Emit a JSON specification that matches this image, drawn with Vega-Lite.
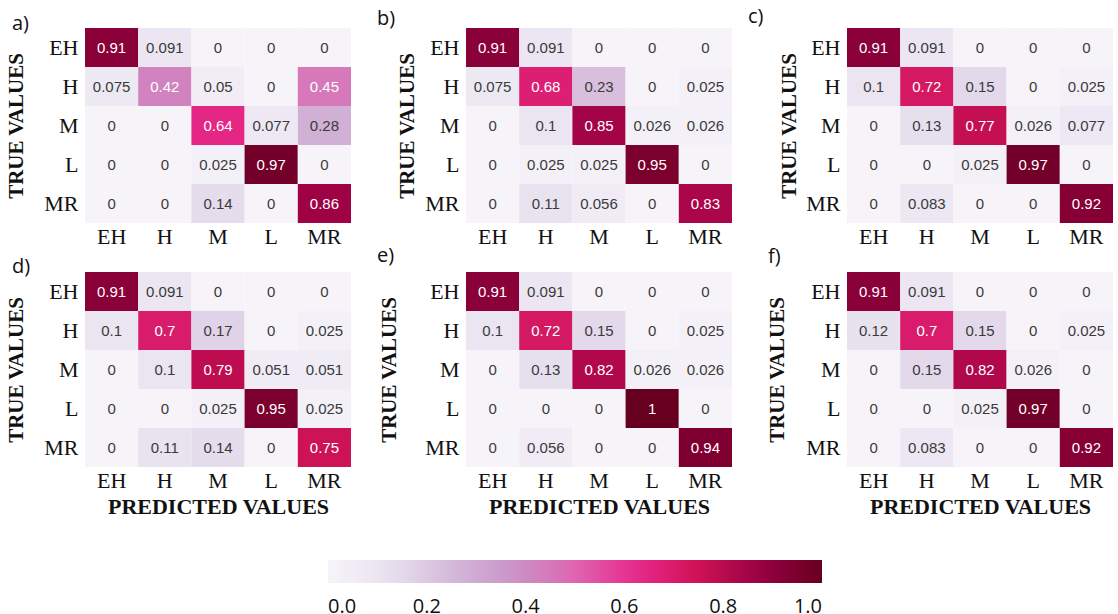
{
  "$schema": "https://vega.github.io/schema/vega-lite/v6.json",
  "background": "white",
  "padding": {"left": 5, "top": 7, "right": 0, "bottom": 0},
  "datasets": {
    "cm": [
      {"panel": "a", "actual": "EH", "predicted": "EH", "value": 0.91},
      {"panel": "a", "actual": "EH", "predicted": "H", "value": 0.091},
      {"panel": "a", "actual": "EH", "predicted": "M", "value": 0},
      {"panel": "a", "actual": "EH", "predicted": "L", "value": 0},
      {"panel": "a", "actual": "EH", "predicted": "MR", "value": 0},
      {"panel": "a", "actual": "H", "predicted": "EH", "value": 0.075},
      {"panel": "a", "actual": "H", "predicted": "H", "value": 0.42},
      {"panel": "a", "actual": "H", "predicted": "M", "value": 0.05},
      {"panel": "a", "actual": "H", "predicted": "L", "value": 0},
      {"panel": "a", "actual": "H", "predicted": "MR", "value": 0.45},
      {"panel": "a", "actual": "M", "predicted": "EH", "value": 0},
      {"panel": "a", "actual": "M", "predicted": "H", "value": 0},
      {"panel": "a", "actual": "M", "predicted": "M", "value": 0.64},
      {"panel": "a", "actual": "M", "predicted": "L", "value": 0.077},
      {"panel": "a", "actual": "M", "predicted": "MR", "value": 0.28},
      {"panel": "a", "actual": "L", "predicted": "EH", "value": 0},
      {"panel": "a", "actual": "L", "predicted": "H", "value": 0},
      {"panel": "a", "actual": "L", "predicted": "M", "value": 0.025},
      {"panel": "a", "actual": "L", "predicted": "L", "value": 0.97},
      {"panel": "a", "actual": "L", "predicted": "MR", "value": 0},
      {"panel": "a", "actual": "MR", "predicted": "EH", "value": 0},
      {"panel": "a", "actual": "MR", "predicted": "H", "value": 0},
      {"panel": "a", "actual": "MR", "predicted": "M", "value": 0.14},
      {"panel": "a", "actual": "MR", "predicted": "L", "value": 0},
      {"panel": "a", "actual": "MR", "predicted": "MR", "value": 0.86},

      {"panel": "b", "actual": "EH", "predicted": "EH", "value": 0.91},
      {"panel": "b", "actual": "EH", "predicted": "H", "value": 0.091},
      {"panel": "b", "actual": "EH", "predicted": "M", "value": 0},
      {"panel": "b", "actual": "EH", "predicted": "L", "value": 0},
      {"panel": "b", "actual": "EH", "predicted": "MR", "value": 0},
      {"panel": "b", "actual": "H", "predicted": "EH", "value": 0.075},
      {"panel": "b", "actual": "H", "predicted": "H", "value": 0.68},
      {"panel": "b", "actual": "H", "predicted": "M", "value": 0.23},
      {"panel": "b", "actual": "H", "predicted": "L", "value": 0},
      {"panel": "b", "actual": "H", "predicted": "MR", "value": 0.025},
      {"panel": "b", "actual": "M", "predicted": "EH", "value": 0},
      {"panel": "b", "actual": "M", "predicted": "H", "value": 0.1},
      {"panel": "b", "actual": "M", "predicted": "M", "value": 0.85},
      {"panel": "b", "actual": "M", "predicted": "L", "value": 0.026},
      {"panel": "b", "actual": "M", "predicted": "MR", "value": 0.026},
      {"panel": "b", "actual": "L", "predicted": "EH", "value": 0},
      {"panel": "b", "actual": "L", "predicted": "H", "value": 0.025},
      {"panel": "b", "actual": "L", "predicted": "M", "value": 0.025},
      {"panel": "b", "actual": "L", "predicted": "L", "value": 0.95},
      {"panel": "b", "actual": "L", "predicted": "MR", "value": 0},
      {"panel": "b", "actual": "MR", "predicted": "EH", "value": 0},
      {"panel": "b", "actual": "MR", "predicted": "H", "value": 0.11},
      {"panel": "b", "actual": "MR", "predicted": "M", "value": 0.056},
      {"panel": "b", "actual": "MR", "predicted": "L", "value": 0},
      {"panel": "b", "actual": "MR", "predicted": "MR", "value": 0.83},

      {"panel": "c", "actual": "EH", "predicted": "EH", "value": 0.91},
      {"panel": "c", "actual": "EH", "predicted": "H", "value": 0.091},
      {"panel": "c", "actual": "EH", "predicted": "M", "value": 0},
      {"panel": "c", "actual": "EH", "predicted": "L", "value": 0},
      {"panel": "c", "actual": "EH", "predicted": "MR", "value": 0},
      {"panel": "c", "actual": "H", "predicted": "EH", "value": 0.1},
      {"panel": "c", "actual": "H", "predicted": "H", "value": 0.72},
      {"panel": "c", "actual": "H", "predicted": "M", "value": 0.15},
      {"panel": "c", "actual": "H", "predicted": "L", "value": 0},
      {"panel": "c", "actual": "H", "predicted": "MR", "value": 0.025},
      {"panel": "c", "actual": "M", "predicted": "EH", "value": 0},
      {"panel": "c", "actual": "M", "predicted": "H", "value": 0.13},
      {"panel": "c", "actual": "M", "predicted": "M", "value": 0.77},
      {"panel": "c", "actual": "M", "predicted": "L", "value": 0.026},
      {"panel": "c", "actual": "M", "predicted": "MR", "value": 0.077},
      {"panel": "c", "actual": "L", "predicted": "EH", "value": 0},
      {"panel": "c", "actual": "L", "predicted": "H", "value": 0},
      {"panel": "c", "actual": "L", "predicted": "M", "value": 0.025},
      {"panel": "c", "actual": "L", "predicted": "L", "value": 0.97},
      {"panel": "c", "actual": "L", "predicted": "MR", "value": 0},
      {"panel": "c", "actual": "MR", "predicted": "EH", "value": 0},
      {"panel": "c", "actual": "MR", "predicted": "H", "value": 0.083},
      {"panel": "c", "actual": "MR", "predicted": "M", "value": 0},
      {"panel": "c", "actual": "MR", "predicted": "L", "value": 0},
      {"panel": "c", "actual": "MR", "predicted": "MR", "value": 0.92},

      {"panel": "d", "actual": "EH", "predicted": "EH", "value": 0.91},
      {"panel": "d", "actual": "EH", "predicted": "H", "value": 0.091},
      {"panel": "d", "actual": "EH", "predicted": "M", "value": 0},
      {"panel": "d", "actual": "EH", "predicted": "L", "value": 0},
      {"panel": "d", "actual": "EH", "predicted": "MR", "value": 0},
      {"panel": "d", "actual": "H", "predicted": "EH", "value": 0.1},
      {"panel": "d", "actual": "H", "predicted": "H", "value": 0.7},
      {"panel": "d", "actual": "H", "predicted": "M", "value": 0.17},
      {"panel": "d", "actual": "H", "predicted": "L", "value": 0},
      {"panel": "d", "actual": "H", "predicted": "MR", "value": 0.025},
      {"panel": "d", "actual": "M", "predicted": "EH", "value": 0},
      {"panel": "d", "actual": "M", "predicted": "H", "value": 0.1},
      {"panel": "d", "actual": "M", "predicted": "M", "value": 0.79},
      {"panel": "d", "actual": "M", "predicted": "L", "value": 0.051},
      {"panel": "d", "actual": "M", "predicted": "MR", "value": 0.051},
      {"panel": "d", "actual": "L", "predicted": "EH", "value": 0},
      {"panel": "d", "actual": "L", "predicted": "H", "value": 0},
      {"panel": "d", "actual": "L", "predicted": "M", "value": 0.025},
      {"panel": "d", "actual": "L", "predicted": "L", "value": 0.95},
      {"panel": "d", "actual": "L", "predicted": "MR", "value": 0.025},
      {"panel": "d", "actual": "MR", "predicted": "EH", "value": 0},
      {"panel": "d", "actual": "MR", "predicted": "H", "value": 0.11},
      {"panel": "d", "actual": "MR", "predicted": "M", "value": 0.14},
      {"panel": "d", "actual": "MR", "predicted": "L", "value": 0},
      {"panel": "d", "actual": "MR", "predicted": "MR", "value": 0.75},

      {"panel": "e", "actual": "EH", "predicted": "EH", "value": 0.91},
      {"panel": "e", "actual": "EH", "predicted": "H", "value": 0.091},
      {"panel": "e", "actual": "EH", "predicted": "M", "value": 0},
      {"panel": "e", "actual": "EH", "predicted": "L", "value": 0},
      {"panel": "e", "actual": "EH", "predicted": "MR", "value": 0},
      {"panel": "e", "actual": "H", "predicted": "EH", "value": 0.1},
      {"panel": "e", "actual": "H", "predicted": "H", "value": 0.72},
      {"panel": "e", "actual": "H", "predicted": "M", "value": 0.15},
      {"panel": "e", "actual": "H", "predicted": "L", "value": 0},
      {"panel": "e", "actual": "H", "predicted": "MR", "value": 0.025},
      {"panel": "e", "actual": "M", "predicted": "EH", "value": 0},
      {"panel": "e", "actual": "M", "predicted": "H", "value": 0.13},
      {"panel": "e", "actual": "M", "predicted": "M", "value": 0.82},
      {"panel": "e", "actual": "M", "predicted": "L", "value": 0.026},
      {"panel": "e", "actual": "M", "predicted": "MR", "value": 0.026},
      {"panel": "e", "actual": "L", "predicted": "EH", "value": 0},
      {"panel": "e", "actual": "L", "predicted": "H", "value": 0},
      {"panel": "e", "actual": "L", "predicted": "M", "value": 0},
      {"panel": "e", "actual": "L", "predicted": "L", "value": 1},
      {"panel": "e", "actual": "L", "predicted": "MR", "value": 0},
      {"panel": "e", "actual": "MR", "predicted": "EH", "value": 0},
      {"panel": "e", "actual": "MR", "predicted": "H", "value": 0.056},
      {"panel": "e", "actual": "MR", "predicted": "M", "value": 0},
      {"panel": "e", "actual": "MR", "predicted": "L", "value": 0},
      {"panel": "e", "actual": "MR", "predicted": "MR", "value": 0.94},

      {"panel": "f", "actual": "EH", "predicted": "EH", "value": 0.91},
      {"panel": "f", "actual": "EH", "predicted": "H", "value": 0.091},
      {"panel": "f", "actual": "EH", "predicted": "M", "value": 0},
      {"panel": "f", "actual": "EH", "predicted": "L", "value": 0},
      {"panel": "f", "actual": "EH", "predicted": "MR", "value": 0},
      {"panel": "f", "actual": "H", "predicted": "EH", "value": 0.12},
      {"panel": "f", "actual": "H", "predicted": "H", "value": 0.7},
      {"panel": "f", "actual": "H", "predicted": "M", "value": 0.15},
      {"panel": "f", "actual": "H", "predicted": "L", "value": 0},
      {"panel": "f", "actual": "H", "predicted": "MR", "value": 0.025},
      {"panel": "f", "actual": "M", "predicted": "EH", "value": 0},
      {"panel": "f", "actual": "M", "predicted": "H", "value": 0.15},
      {"panel": "f", "actual": "M", "predicted": "M", "value": 0.82},
      {"panel": "f", "actual": "M", "predicted": "L", "value": 0.026},
      {"panel": "f", "actual": "M", "predicted": "MR", "value": 0},
      {"panel": "f", "actual": "L", "predicted": "EH", "value": 0},
      {"panel": "f", "actual": "L", "predicted": "H", "value": 0},
      {"panel": "f", "actual": "L", "predicted": "M", "value": 0.025},
      {"panel": "f", "actual": "L", "predicted": "L", "value": 0.97},
      {"panel": "f", "actual": "L", "predicted": "MR", "value": 0},
      {"panel": "f", "actual": "MR", "predicted": "EH", "value": 0},
      {"panel": "f", "actual": "MR", "predicted": "H", "value": 0.083},
      {"panel": "f", "actual": "MR", "predicted": "M", "value": 0},
      {"panel": "f", "actual": "MR", "predicted": "L", "value": 0},
      {"panel": "f", "actual": "MR", "predicted": "MR", "value": 0.92}
    ]
  },
  "columns": 3,
  "spacing": {"column": 115, "row": 49},
  "bounds": "flush",
  "resolve": {"scale": {"x": "independent", "y": "independent", "color": "shared"}},
  "concat": [
    {
      "width": 266, "height": 195,
      "title": {"text": "a)", "dx": -73, "dy": 10},
      "data": {"name": "cm"},
      "transform": [{"filter": "datum.panel == 'a'"}],
      "encoding": {
        "x": {"field": "predicted", "type": "nominal", "sort": ["EH", "H", "M", "L", "MR"], "axis": {"title": null}},
        "y": {"field": "actual", "type": "nominal", "sort": ["EH", "H", "M", "L", "MR"], "axis": {"title": "TRUE VALUES", "titlePadding": 17}}
      },
      "layer": [
        {"mark": {"type": "rect"}, "encoding": {"color": {"field": "value", "type": "quantitative", "scale": {"domain": [0, 0.125, 0.25, 0.375, 0.5, 0.625, 0.75, 0.875, 1], "range": ["#f7f4f9", "#e7e1ef", "#d4b9da", "#c994c7", "#df65b0", "#e7298a", "#ce1256", "#980043", "#67001f"], "interpolate": "rgb"}, "legend": {"orient": "none", "legendX": 243, "legendY": 532, "direction": "horizontal", "title": null, "gradientLength": 494, "gradientThickness": 23, "gradientStrokeWidth": 0, "values": [0, 0.2, 0.4, 0.6, 0.8, 1], "format": ".1f", "labelFont": "Open Sans", "labelFontSize": 20, "labelColor": "#111", "labelOffset": 14, "labelOverlap": false}}}},
        {"mark": {"type": "text", "font": "Liberation Sans", "fontSize": 15}, "encoding": {"text": {"field": "value", "type": "quantitative", "format": ".2~g"}, "color": {"condition": {"test": "datum.value > 0.35", "value": "white"}, "value": "#3a3a3a"}}}
      ]
    },
    {
      "width": 266, "height": 195,
      "title": {"text": "b)", "dx": -89, "dy": 5},
      "data": {"name": "cm"},
      "transform": [{"filter": "datum.panel == 'b'"}],
      "encoding": {
        "x": {"field": "predicted", "type": "nominal", "sort": ["EH", "H", "M", "L", "MR"], "axis": {"title": null}},
        "y": {"field": "actual", "type": "nominal", "sort": ["EH", "H", "M", "L", "MR"], "axis": {"title": "TRUE VALUES", "titlePadding": 7}}
      },
      "layer": [
        {"mark": {"type": "rect"}, "encoding": {"color": {"field": "value", "type": "quantitative", "scale": {"domain": [0, 0.125, 0.25, 0.375, 0.5, 0.625, 0.75, 0.875, 1], "range": ["#f7f4f9", "#e7e1ef", "#d4b9da", "#c994c7", "#df65b0", "#e7298a", "#ce1256", "#980043", "#67001f"], "interpolate": "rgb"}, "legend": {"orient": "none", "legendX": 243, "legendY": 532, "direction": "horizontal", "title": null, "gradientLength": 494, "gradientThickness": 23, "gradientStrokeWidth": 0, "values": [0, 0.2, 0.4, 0.6, 0.8, 1], "format": ".1f", "labelFont": "Open Sans", "labelFontSize": 20, "labelColor": "#111", "labelOffset": 14, "labelOverlap": false}}}},
        {"mark": {"type": "text", "font": "Liberation Sans", "fontSize": 15}, "encoding": {"text": {"field": "value", "type": "quantitative", "format": ".2~g"}, "color": {"condition": {"test": "datum.value > 0.35", "value": "white"}, "value": "#3a3a3a"}}}
      ]
    },
    {
      "width": 266, "height": 195,
      "title": {"text": "c)", "dx": -99, "dy": 3},
      "data": {"name": "cm"},
      "transform": [{"filter": "datum.panel == 'c'"}],
      "encoding": {
        "x": {"field": "predicted", "type": "nominal", "sort": ["EH", "H", "M", "L", "MR"], "axis": {"title": null}},
        "y": {"field": "actual", "type": "nominal", "sort": ["EH", "H", "M", "L", "MR"], "axis": {"title": "TRUE VALUES", "titlePadding": 6}}
      },
      "layer": [
        {"mark": {"type": "rect"}, "encoding": {"color": {"field": "value", "type": "quantitative", "scale": {"domain": [0, 0.125, 0.25, 0.375, 0.5, 0.625, 0.75, 0.875, 1], "range": ["#f7f4f9", "#e7e1ef", "#d4b9da", "#c994c7", "#df65b0", "#e7298a", "#ce1256", "#980043", "#67001f"], "interpolate": "rgb"}, "legend": {"orient": "none", "legendX": 243, "legendY": 532, "direction": "horizontal", "title": null, "gradientLength": 494, "gradientThickness": 23, "gradientStrokeWidth": 0, "values": [0, 0.2, 0.4, 0.6, 0.8, 1], "format": ".1f", "labelFont": "Open Sans", "labelFontSize": 20, "labelColor": "#111", "labelOffset": 14, "labelOverlap": false}}}},
        {"mark": {"type": "text", "font": "Liberation Sans", "fontSize": 15}, "encoding": {"text": {"field": "value", "type": "quantitative", "format": ".2~g"}, "color": {"condition": {"test": "datum.value > 0.35", "value": "white"}, "value": "#3a3a3a"}}}
      ]
    },
    {
      "width": 266, "height": 195,
      "title": {"text": "d)", "dx": -73, "dy": 9},
      "data": {"name": "cm"},
      "transform": [{"filter": "datum.panel == 'd'"}],
      "encoding": {
        "x": {"field": "predicted", "type": "nominal", "sort": ["EH", "H", "M", "L", "MR"], "axis": {"title": "PREDICTED VALUES"}},
        "y": {"field": "actual", "type": "nominal", "sort": ["EH", "H", "M", "L", "MR"], "axis": {"title": "TRUE VALUES", "titlePadding": 17}}
      },
      "layer": [
        {"mark": {"type": "rect"}, "encoding": {"color": {"field": "value", "type": "quantitative", "scale": {"domain": [0, 0.125, 0.25, 0.375, 0.5, 0.625, 0.75, 0.875, 1], "range": ["#f7f4f9", "#e7e1ef", "#d4b9da", "#c994c7", "#df65b0", "#e7298a", "#ce1256", "#980043", "#67001f"], "interpolate": "rgb"}, "legend": {"orient": "none", "legendX": 243, "legendY": 532, "direction": "horizontal", "title": null, "gradientLength": 494, "gradientThickness": 23, "gradientStrokeWidth": 0, "values": [0, 0.2, 0.4, 0.6, 0.8, 1], "format": ".1f", "labelFont": "Open Sans", "labelFontSize": 20, "labelColor": "#111", "labelOffset": 14, "labelOverlap": false}}}},
        {"mark": {"type": "text", "font": "Liberation Sans", "fontSize": 15}, "encoding": {"text": {"field": "value", "type": "quantitative", "format": ".2~g"}, "color": {"condition": {"test": "datum.value > 0.35", "value": "white"}, "value": "#3a3a3a"}}}
      ]
    },
    {
      "width": 266, "height": 195,
      "title": {"text": "e)", "dx": -89, "dy": -2},
      "data": {"name": "cm"},
      "transform": [{"filter": "datum.panel == 'e'"}],
      "encoding": {
        "x": {"field": "predicted", "type": "nominal", "sort": ["EH", "H", "M", "L", "MR"], "axis": {"title": "PREDICTED VALUES"}},
        "y": {"field": "actual", "type": "nominal", "sort": ["EH", "H", "M", "L", "MR"], "axis": {"title": "TRUE VALUES", "titlePadding": 25}}
      },
      "layer": [
        {"mark": {"type": "rect"}, "encoding": {"color": {"field": "value", "type": "quantitative", "scale": {"domain": [0, 0.125, 0.25, 0.375, 0.5, 0.625, 0.75, 0.875, 1], "range": ["#f7f4f9", "#e7e1ef", "#d4b9da", "#c994c7", "#df65b0", "#e7298a", "#ce1256", "#980043", "#67001f"], "interpolate": "rgb"}, "legend": {"orient": "none", "legendX": 243, "legendY": 532, "direction": "horizontal", "title": null, "gradientLength": 494, "gradientThickness": 23, "gradientStrokeWidth": 0, "values": [0, 0.2, 0.4, 0.6, 0.8, 1], "format": ".1f", "labelFont": "Open Sans", "labelFontSize": 20, "labelColor": "#111", "labelOffset": 14, "labelOverlap": false}}}},
        {"mark": {"type": "text", "font": "Liberation Sans", "fontSize": 15}, "encoding": {"text": {"field": "value", "type": "quantitative", "format": ".2~g"}, "color": {"condition": {"test": "datum.value > 0.35", "value": "white"}, "value": "#3a3a3a"}}}
      ]
    },
    {
      "width": 266, "height": 195,
      "title": {"text": "f)", "dx": -79, "dy": -1},
      "data": {"name": "cm"},
      "transform": [{"filter": "datum.panel == 'f'"}],
      "encoding": {
        "x": {"field": "predicted", "type": "nominal", "sort": ["EH", "H", "M", "L", "MR"], "axis": {"title": "PREDICTED VALUES"}},
        "y": {"field": "actual", "type": "nominal", "sort": ["EH", "H", "M", "L", "MR"], "axis": {"title": "TRUE VALUES", "titlePadding": 18}}
      },
      "layer": [
        {"mark": {"type": "rect"}, "encoding": {"color": {"field": "value", "type": "quantitative", "scale": {"domain": [0, 0.125, 0.25, 0.375, 0.5, 0.625, 0.75, 0.875, 1], "range": ["#f7f4f9", "#e7e1ef", "#d4b9da", "#c994c7", "#df65b0", "#e7298a", "#ce1256", "#980043", "#67001f"], "interpolate": "rgb"}, "legend": {"orient": "none", "legendX": 243, "legendY": 532, "direction": "horizontal", "title": null, "gradientLength": 494, "gradientThickness": 23, "gradientStrokeWidth": 0, "values": [0, 0.2, 0.4, 0.6, 0.8, 1], "format": ".1f", "labelFont": "Open Sans", "labelFontSize": 20, "labelColor": "#111", "labelOffset": 14, "labelOverlap": false}}}},
        {"mark": {"type": "text", "font": "Liberation Sans", "fontSize": 15}, "encoding": {"text": {"field": "value", "type": "quantitative", "format": ".2~g"}, "color": {"condition": {"test": "datum.value > 0.35", "value": "white"}, "value": "#3a3a3a"}}}
      ]
    }
  ],
  "config": {
    "view": {"stroke": null},
    "axis": {"domain": false, "ticks": false, "grid": false, "labelFont": "Liberation Serif", "labelFontSize": 22, "labelColor": "#111", "labelAngle": 0, "titleFont": "Liberation Serif", "titleFontWeight": "bold", "titleColor": "#111"},
    "axisX": {"labelPadding": 3, "titleFontSize": 22, "titlePadding": 5},
    "axisY": {"labelPadding": 7, "titleFontSize": 21},
    "title": {"font": "Open Sans", "fontSize": 20, "fontWeight": "normal", "anchor": "start", "frame": "group", "baseline": "alphabetic", "offset": 0, "color": "#111"}
  }
}
